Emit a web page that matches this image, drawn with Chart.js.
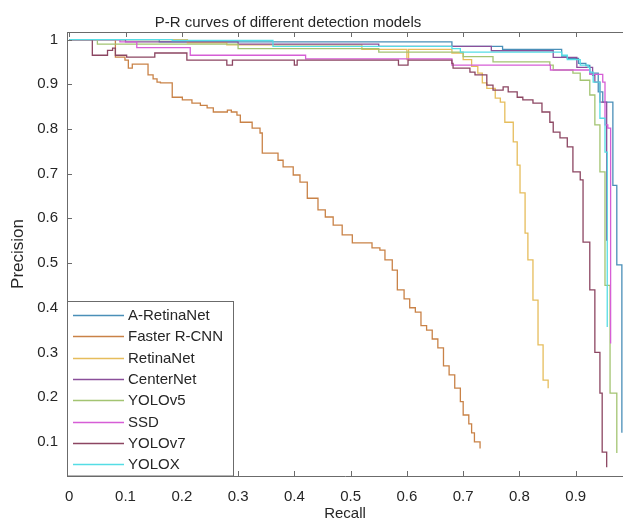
<!DOCTYPE html>
<html>
<head>
<meta charset="utf-8">
<script src="https://cdn.jsdelivr.net/npm/chart.js@4.4.1/dist/chart.umd.min.js"></script>
<style>
  html, body { margin: 0; padding: 0; background: #fff; }
  #wrap { width: 623px; height: 526px; }
</style>
</head>
<body>
<div id="wrap"><canvas id="prChart" width="623" height="526"></canvas></div>
<script>
"use strict";

// P-R curves (recall / precision per model, step points)
const modelNames = ['A-RetinaNet', 'Faster R-CNN', 'RetinaNet', 'CenterNet', 'YOLOv5', 'SSD', 'YOLOv7', 'YOLOX'];
const modelColors = ['#4a8fb8', '#c98247', '#e6bd5c', '#8a4f9a', '#a3c472', '#d65ed6', '#8c4662', '#55dde5'];

const xTicks = [0, 0.1, 0.2, 0.3, 0.4, 0.5, 0.6, 0.7, 0.8, 0.9];
const yTicks = [0.1, 0.2, 0.3, 0.4, 0.5, 0.6, 0.7, 0.8, 0.9, 1];

const aRetinaRecall = [0, 0.16, 0.68, 0.77, 0.875, 0.885, 0.905, 0.918, 0.925, 0.94, 0.948, 0.966, 0.973, 0.982];
const aRetinaPrec   = [1, 0.995, 0.985, 0.978, 0.963, 0.958, 0.947, 0.942, 0.925, 0.883, 0.86, 0.674, 0.496, 0.12];

const fasterRecall = [0, 0.082, 0.099, 0.105, 0.112, 0.140, 0.149, 0.156, 0.162, 0.183, 0.201, 0.218, 0.233, 0.245,
    0.256, 0.281, 0.288, 0.298, 0.304, 0.325, 0.339, 0.343, 0.371, 0.380, 0.398, 0.410, 0.423, 0.442, 0.455, 0.469,
    0.485, 0.503, 0.538, 0.552, 0.561, 0.574, 0.583, 0.595, 0.605, 0.615, 0.625, 0.635, 0.645, 0.655, 0.665, 0.675,
    0.685, 0.695, 0.70, 0.71, 0.715, 0.72, 0.73];
const fasterPrec = [1, 0.961, 0.954, 0.936, 0.945, 0.921, 0.912, 0.905, 0.903, 0.871, 0.865, 0.858, 0.853, 0.847,
    0.838, 0.842, 0.838, 0.831, 0.815, 0.802, 0.791, 0.746, 0.730, 0.715, 0.697, 0.681, 0.645, 0.619, 0.603, 0.585,
    0.563, 0.545, 0.534, 0.529, 0.507, 0.484, 0.44, 0.42, 0.40, 0.39, 0.36, 0.35, 0.33, 0.31, 0.27, 0.25,
    0.22, 0.19, 0.16, 0.14, 0.12, 0.10, 0.085];

const retinaRecall = [0, 0.21, 0.28, 0.52, 0.60, 0.603, 0.68, 0.70, 0.715, 0.726, 0.734, 0.742, 0.757, 0.766, 0.774,
    0.789, 0.796, 0.801, 0.810, 0.815, 0.824, 0.833, 0.842, 0.851];
const retinaPrec = [1, 0.993, 0.988, 0.978, 0.955, 0.978, 0.97, 0.955, 0.94, 0.925, 0.903, 0.891, 0.869, 0.860, 0.815,
    0.771, 0.719, 0.657, 0.567, 0.507, 0.417, 0.317, 0.238, 0.22];

const centerRecall = [0, 0.10, 0.30, 0.55, 0.75, 0.86, 0.902, 0.93, 0.934, 0.943, 0.955];
const centerPrec   = [1, 0.995, 0.99, 0.985, 0.975, 0.96, 0.938, 0.92, 0.905, 0.86, 0.55];

const yolo5Recall = [0, 0.05, 0.30, 0.55, 0.70, 0.753, 0.854, 0.860, 0.895, 0.908, 0.925, 0.934, 0.943, 0.952, 0.961, 0.973];
const yolo5Prec   = [1, 0.99, 0.98, 0.972, 0.962, 0.95, 0.943, 0.932, 0.925, 0.909, 0.876, 0.809, 0.704, 0.45, 0.209, 0.075];

const ssdRecall = [0, 0.09, 0.12, 0.215, 0.42, 0.68, 0.855, 0.925, 0.948, 0.952, 0.957, 0.962];
const ssdPrec   = [1, 0.995, 0.982, 0.965, 0.957, 0.943, 0.932, 0.922, 0.905, 0.809, 0.802, 0.32];

const yolo7Recall = [0, 0.041, 0.068, 0.077, 0.082, 0.102, 0.152, 0.209, 0.28, 0.29, 0.40, 0.405, 0.585, 0.602,
    0.68, 0.682, 0.712, 0.721, 0.742, 0.753, 0.771, 0.780, 0.796, 0.806, 0.824, 0.840, 0.854, 0.860, 0.872,
    0.885, 0.895, 0.908, 0.913, 0.925, 0.934, 0.943, 0.947, 0.955];
const yolo7Prec = [1, 0.965, 0.976, 0.981, 0.965, 0.961, 0.970, 0.954, 0.943, 0.954, 0.943, 0.954, 0.943, 0.954,
    0.947, 0.936, 0.927, 0.921, 0.898, 0.887, 0.894, 0.883, 0.871, 0.865, 0.858, 0.838, 0.815, 0.793, 0.78,
    0.76, 0.704, 0.686, 0.547, 0.44, 0.30, 0.209, 0.077, 0.043];

const yoloxRecall = [0, 0.183, 0.362, 0.68, 0.695, 0.875, 0.885, 0.908, 0.922, 0.925, 0.931, 0.943, 0.952, 0.956];
const yoloxPrec   = [1, 0.998, 0.985, 0.98, 0.972, 0.965, 0.955, 0.943, 0.938, 0.927, 0.905, 0.824, 0.748, 0.357];

const curveRecall = [aRetinaRecall, fasterRecall, retinaRecall, centerRecall, yolo5Recall, ssdRecall, yolo7Recall, yoloxRecall];
const curvePrec   = [aRetinaPrec, fasterPrec, retinaPrec, centerPrec, yolo5Prec, ssdPrec, yolo7Prec, yoloxPrec];

const FONT = '"Liberation Sans", Arial, sans-serif';
const TEXT = '#262626';
const AXIS = '#6b6b6b';

function toPoints(r, p) {
    return r.map((x, i) => ({ x: x, y: p[i] }));
}

function fmt(v) {
    return String(Math.round(v * 10) / 10);
}

// title drawn over the plot (its centre is not the canvas centre)
const titlePlugin = {
    id: 'plotTitle',
    afterDraw(chart) {
        const ctx = chart.ctx;
        ctx.save();
        ctx.font = '15px ' + FONT;
        ctx.fillStyle = TEXT;
        ctx.textAlign = 'center';
        ctx.textBaseline = 'alphabetic';
        ctx.fillText('P-R curves of different detection models', 288, 26.5);
        ctx.restore();
    }
};

// MATLAB-style box: top border + inward tick marks
const framePlugin = {
    id: 'frame',
    afterDatasetsDraw(chart) {
        const { ctx, chartArea: a, scales: { x, y } } = chart;
        const len = 5;
        ctx.save();
        ctx.strokeStyle = AXIS;
        ctx.lineWidth = 1;
        ctx.beginPath();
        ctx.moveTo(a.left, a.top + 0.5);
        ctx.lineTo(a.right, a.top + 0.5);
        xTicks.forEach(v => {
            const px = Math.round(x.getPixelForValue(v)) + 0.5;
            ctx.moveTo(px, a.bottom);
            ctx.lineTo(px, a.bottom - len);
            ctx.moveTo(px, a.top);
            ctx.lineTo(px, a.top + len);
        });
        yTicks.forEach(v => {
            const py = Math.round(y.getPixelForValue(v)) + 0.5;
            ctx.moveTo(a.left, py);
            ctx.lineTo(a.left + len, py);
        });
        ctx.stroke();
        ctx.restore();
    }
};

// boxed legend in the lower-left corner of the axes
const legendPlugin = {
    id: 'boxLegend',
    afterDraw(chart) {
        const { ctx, chartArea: a } = chart;
        const boxW = 166, boxTop = 301;
        const rowH = 21.3, firstRow = 315;
        ctx.save();
        ctx.fillStyle = '#fff';
        ctx.fillRect(a.left, boxTop, boxW, a.bottom - boxTop);
        ctx.strokeStyle = AXIS;
        ctx.lineWidth = 1;
        ctx.strokeRect(a.left + 0.5, boxTop + 0.5, boxW, a.bottom - boxTop - 0.5);
        ctx.font = '15px ' + FONT;
        ctx.textBaseline = 'middle';
        ctx.textAlign = 'left';
        chart.data.datasets.forEach((ds, i) => {
            const yy = Math.round(firstRow + i * rowH) + 0.5;
            ctx.strokeStyle = ds.borderColor;
            ctx.lineWidth = 1.3;
            ctx.beginPath();
            ctx.moveTo(a.left + 6, yy);
            ctx.lineTo(a.left + 57, yy);
            ctx.stroke();
            ctx.fillStyle = TEXT;
            ctx.fillText(ds.label, a.left + 61, yy + 0.5);
        });
        ctx.restore();
    }
};

new Chart(document.getElementById('prChart'), {
    type: 'line',
    data: {
        datasets: modelNames.map((name, i) => ({
            label: name,
            data: toPoints(curveRecall[i], curvePrec[i]),
            borderColor: modelColors[i],
            backgroundColor: modelColors[i],
            borderWidth: 1.3,
            stepped: 'before',
            pointRadius: 0,
            fill: false,
            order: modelNames.length - i
        }))
    },
    options: {
        responsive: false,
        animation: false,
        events: [],
        layout: { padding: { top: 32, right: 0, bottom: 0, left: 0 } },
        plugins: {
            legend: { display: false },
            tooltip: { enabled: false },
            title: { display: false }
        },
        scales: {
            x: {
                type: 'linear',
                min: -0.004,
                max: 0.984,
                afterBuildTicks: s => { s.ticks = xTicks.map(v => ({ value: v })); },
                afterFit: s => { s.height = 50; },
                grid: { display: false, drawTicks: false },
                border: { display: true, color: AXIS, width: 1 },
                ticks: { padding: 12, color: TEXT, font: { family: FONT, size: 15 }, callback: v => fmt(v), maxRotation: 0 },
                title: { display: true, text: 'Recall', color: TEXT, font: { family: FONT, size: 15 }, padding: { top: 0, bottom: 3 } }
            },
            y: {
                type: 'linear',
                min: 0.0235,
                max: 1.017,
                afterBuildTicks: s => { s.ticks = yTicks.map(v => ({ value: v })); },
                afterFit: s => { s.width = 67; },
                grid: { display: false, drawTicks: false },
                border: { display: true, color: AXIS, width: 1 },
                ticks: { padding: 9, color: TEXT, font: { family: FONT, size: 15 }, callback: v => fmt(v) },
                title: { display: true, text: 'Precision', color: TEXT, font: { family: FONT, size: 17 }, padding: { top: 8, bottom: 0 } }
            }
        }
    },
    plugins: [framePlugin, legendPlugin, titlePlugin]
});
</script>
</body>
</html>
